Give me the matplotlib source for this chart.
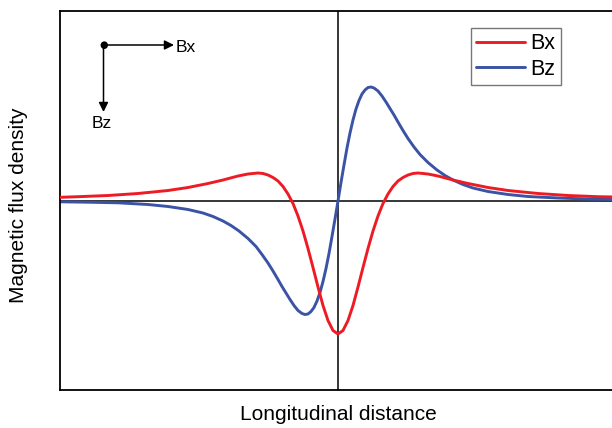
import matplotlib
matplotlib.use("Agg")
import matplotlib.pyplot as plt

plt.rcParams['font.family'] = ['Liberation Sans', 'DejaVu Sans']

# Longitudinal distance (arbitrary units, centre at 0) and flux density readings
bx_x = [-278, -260, -230, -200, -170, -150, -130, -115, -100, -90, -80, -75, -70, -65, -60, -55, -50,
        -45, -40, -35, -30, -25, -20, -15, -10, -5, 0,
        5, 10, 15, 20, 25, 30, 35, 40, 45, 50, 55, 60, 65, 70, 75, 80, 90, 100, 115,
        130, 150, 170, 200, 230, 260, 278]
bx_y = [3.7, 4.3, 5.5, 7.5, 10.5, 13.5, 17.5, 21, 25, 27, 28, 27.5, 26, 23.5, 20, 14.5, 7,
        -2.5, -15, -30, -47.5, -66.5, -86, -104.5, -119.5, -129.5, -133,
        -129.5, -119.5, -104.5, -86, -66.5, -47.5, -30, -15, -2.5, 7, 14.5, 20, 23.5, 26, 27.5, 28, 27, 25, 21,
        17.5, 13.5, 10.5, 7.5, 5.5, 4.3, 4]

bz_x = [-278, -250, -220, -190, -170, -150, -135, -125, -115, -107, -99, -90, -82, -76, -70, -65,
        -60, -56, -52, -48, -44, -40, -36, -33, -30, -27, -24, -21, -18, -15, -12, -9, -6, -3, 0,
        3, 6, 9, 12, 15, 18, 21, 24, 27, 30, 33, 36, 40, 44, 48, 52, 56, 60, 65, 70, 76, 82,
        90, 99, 107, 115, 125, 135, 150, 170, 190, 220, 250, 278]
bz_y = [-0.8, -1.2, -1.8, -3.5, -5.5, -8.5, -12, -15.5, -20, -24.5, -30, -37.5, -45.5, -53.5, -62, -70,
        -78.5, -85.5, -92, -98.5, -104.5, -109.5, -112.5, -113.5, -113, -110.5, -106.5, -100, -91.5, -80.5,
        -67.5, -52.5, -35.5, -18, 0,
        18.5, 36, 53, 68, 81, 92, 100.5, 107, 111, 113.5, 114, 113, 110, 105, 99, 92.5, 86, 79, 70.5, 62.5, 54, 46.5,
        38.5, 31, 25.5, 21, 16.5, 13, 9.5, 6.5, 4.5, 3, 2, 1.5]

fig = plt.figure(figsize=(6.12, 4.28), dpi=100)
ax = fig.add_axes([60/612, 38/428, 556/612, 379.3/428])

ax.axhline(0, color='black', lw=1.1, zorder=1)
ax.axvline(0, color='black', lw=1.1, zorder=1)
ax.plot(bx_x, bx_y, color='#ed1c24', lw=2.1, label='Bx', zorder=3,
        solid_capstyle='round', solid_joinstyle='round')
ax.plot(bz_x, bz_y, color='#3a53a4', lw=2.1, label='Bz', zorder=2,
        solid_capstyle='round', solid_joinstyle='round')

ax.set_xlim(-278, 278)
ax.set_ylim(-189, 190.3)
ax.set_xticks([])
ax.set_yticks([])
for s in ax.spines.values():
    s.set_linewidth(1.3)
ax.spines['right'].set_visible(False)

def fp(px, py):
    return (px/612, 1 - py/428)

fig.text(*fp(338, 415), 'Longitudinal distance', fontsize=15, ha='center', va='center')
fig.text(*fp(19, 205), 'Magnetic flux density', fontsize=15, ha='center', va='center', rotation=90)

leg = ax.legend(loc='upper right', bbox_to_anchor=fp(561, 28), bbox_transform=fig.transFigure,
                fontsize=15.5, frameon=True, fancybox=False, handlelength=2.25, handletextpad=0.28,
                borderpad=0.25, labelspacing=0.2, borderaxespad=0)
leg.get_frame().set_edgecolor('#555555')
leg.get_frame().set_linewidth(1.0)

# coordinate arrows
ax.annotate('', xy=fp(174, 45), xycoords='figure fraction', xytext=fp(103.5, 45),
            textcoords='figure fraction',
            arrowprops=dict(arrowstyle='-|>', color='black', lw=1.1, mutation_scale=14, shrinkA=0, shrinkB=0))
ax.annotate('', xy=fp(103.5, 112), xycoords='figure fraction', xytext=fp(103.5, 45),
            textcoords='figure fraction',
            arrowprops=dict(arrowstyle='-|>', color='black', lw=1.1, mutation_scale=14, shrinkA=0, shrinkB=0))
fig.text(*fp(103.5, 45), '●', fontsize=7, ha='center', va='center', family='DejaVu Sans')
fig.text(*fp(176, 48), 'Bx', fontsize=12.5, ha='left', va='center')
fig.text(*fp(102, 123), 'Bz', fontsize=12.5, ha='center', va='center')

fig.savefig('out.png', dpi=100)
